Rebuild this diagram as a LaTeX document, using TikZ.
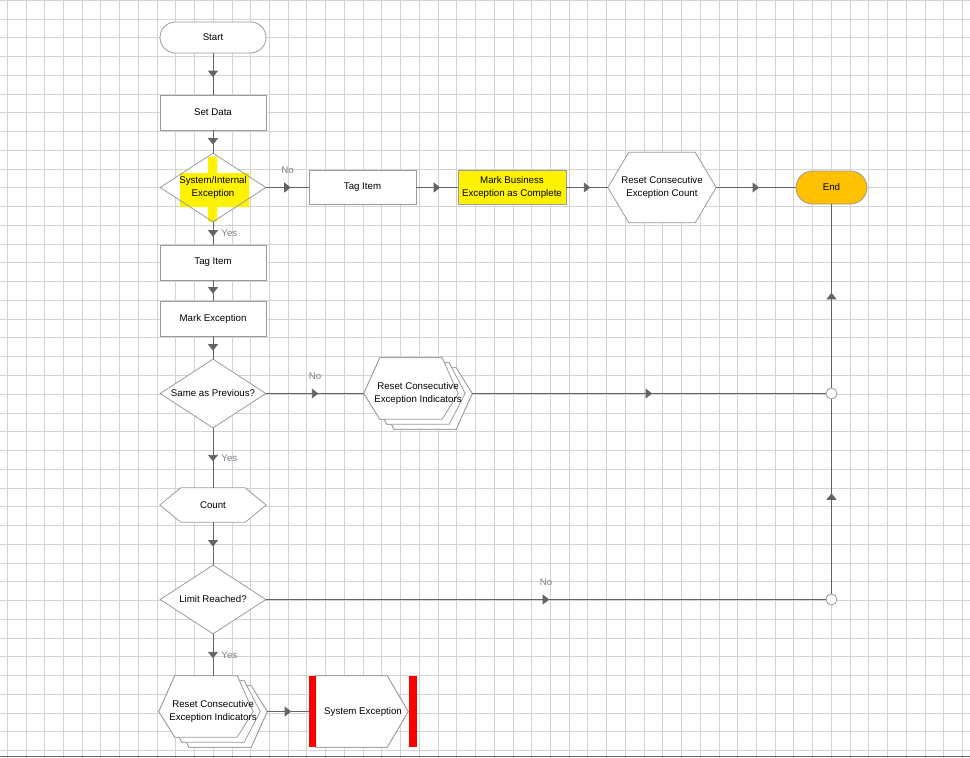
\documentclass[tikz,border=0pt]{standalone}
\usepackage{fontspec}
\setmainfont{Liberation Sans}
\usetikzlibrary{arrows.meta,calc,shapes.geometric,decorations.markings}
\definecolor{gridgray}{RGB}{211,211,211}
\definecolor{linegray}{RGB}{100,100,100}
\definecolor{shapegray}{RGB}{155,155,155}
\definecolor{labelgray}{RGB}{125,130,140}
\definecolor{endorange}{RGB}{255,192,0}
\pgfdeclarelayer{paper}\pgfdeclarelayer{outline}
\pgfsetlayers{paper,outline,main}
\newcommand{\hexa}[5]{\draw[#4] let \p1=#1, \p2=#2, \p3=#5 in (\x1,\y3) -- ({\x1+#3},\y1) -- ({\x2-#3},\y1) -- (\x2,\y3) -- ({\x2-#3},\y2) -- ({\x1+#3},\y2) -- cycle;}

\begin{document}
\begin{tikzpicture}[x=1pt,y=-1pt,font=\fontsize{9.7}{12.5}\selectfont,
 box/.style={draw=shapegray,line width=.8pt,fill=white,minimum width=106pt,minimum height=35pt,inner sep=0pt,align=center},
 term/.style={box,rounded corners=15.5pt,minimum height=31pt},
 decision/.style={box,diamond,minimum height=69pt,aspect=1.54},
 stackbox/.style={draw=none,fill=none,minimum width=108pt,minimum height=70pt,inner sep=0pt,align=center},
 hexline/.style={draw=shapegray,line width=.8pt,fill=white},
 flow/.style={draw=linegray,line width=.9pt,postaction={decorate},decoration={markings,mark=at position .5 with {\arrow[linegray,xshift=3.2pt]{Triangle[length=6.5pt,width=10pt]}}}},
 flowlabel/.style={text=labelgray,inner sep=0pt},
 junction/.style={circle,draw=shapegray,line width=.8pt,fill=white,minimum size=11pt,inner sep=0pt}]
 \useasboundingbox (0,0) rectangle (970,758);
 \begin{pgfonlayer}{paper}
  \fill[white] (0,0) rectangle (970,758);
  \foreach \k in {0,...,51} \draw[gridgray,line width=1pt] ({7.3+18.73*\k},0) -- ++(0,758);
  \foreach \k in {0,...,40} \draw[gridgray,line width=1pt] (0,{0.3+18.76*\k}) -- ++(970,0);
  \draw[linegray,line width=1pt] (0,756.5) -- (970,756.5);
 \end{pgfonlayer}

 \node[term] (start) at (213,37.5) {Start};
 \node[box] (setdata) at (213,112.5) {Set Data};
 \node[decision,fill=none] (sysint) at (213,187.5) {System/Internal\\Exception};
 \node[box,minimum width=107pt,minimum height=34pt] (tag1) at (362.5,187.5) {Tag Item};
 \node[box,fill=yellow,minimum width=108pt,minimum height=34pt] (markbus) at (512,187.5) {Mark Business\\Exception as Complete};
 \node[stackbox] (rcount) at (662,187.5) {Reset Consecutive\\Exception Count};
 \node[term,fill=endorange,minimum width=71pt,minimum height=33pt,rounded corners=16.5pt] (endn) at (831.5,187.5) {End};
 \node[box] (tag2) at (213,262.5) {Tag Item};
 \node[box] (markex) at (213,318.5) {Mark Exception};
 \node[decision] (same) at (213,393.5) {Same as Previous?};
 \node[stackbox,minimum height=71pt] (rci1) at (418,393.5) {Reset Consecutive\\Exception Indicators};
 \node[stackbox,minimum width=106pt,minimum height=34pt] (count) at (213,505) {Count};
 \node[decision] (limit) at (213,599.5) {Limit Reached?};
 \node[stackbox,minimum height=71pt] (rci2) at (213,711.5) {Reset Consecutive\\Exception Indicators};
 \node[stackbox,minimum height=71pt] (sysex) at (363,711.5) {System Exception};
 \node[junction] (j1) at (831.5,393.5) {};
 \node[junction] (j2) at (831.5,599.5) {};

 \begin{pgfonlayer}{outline}
  \foreach \s in {rcount,count} \hexa{(\s.north west)}{(\s.south east)}{21pt}{hexline}{(\s.center)}
  \foreach \s in {rci1,rci2}{
   \hexa{([shift={(14,10)}]\s.north west)}{(\s.south east)}{16pt}{hexline}{(\s.center)}
   \hexa{([shift={(7,5)}]\s.north west)}{([shift={(-7,-5)}]\s.south east)}{16pt}{hexline}{(\s.center)}
   \hexa{(\s.north west)}{([shift={(-14,-10)}]\s.south east)}{16pt}{hexline}{(\s.center)}}
  \draw[hexline] ([xshift=7]sysex.north west) -- ([xshift=-30]sysex.north east) -- ([xshift=-9]sysex.east) -- ([xshift=-30]sysex.south east) -- ([xshift=7]sysex.south west) -- cycle;
  \fill[red] (sysex.north west) rectangle ([xshift=7]sysex.south west);
  \fill[red] ([xshift=-8]sysex.north east) rectangle (sysex.south east);
  \fill[white] (sysint.north) -- (sysint.east) -- (sysint.south) -- (sysint.west) -- cycle;
  \fill[yellow] ([shift={(-33,-14.5)}]sysint.center) rectangle ([shift={(36,19.5)}]sysint.center)
   ([shift={(-5,-31)}]sysint.center) rectangle ([shift={(4,34)}]sysint.center);
 \end{pgfonlayer}

 \draw[flow] (start) -- (setdata);
 \draw[flow] (setdata) -- (sysint);
 \draw[flow] (sysint) -- node[flowlabel,above=13pt]{No} (tag1);
 \draw[flow] (tag1) -- (markbus);
 \draw[flow] (markbus) -- (rcount);
 \draw[flow] (rcount) -- (endn);
 \draw[flow] (sysint) -- node[flowlabel,right=8pt]{Yes} (tag2);
 \draw[flow] (tag2) -- (markex);
 \draw[flow] (markex) -- (same);
 \draw[flow] (same) -- node[flowlabel,above=13pt]{No} (rci1);
 \draw[flow] (rci1) -- (j1);
 \draw[flow] (same) -- node[flowlabel,right=8pt]{Yes} (count);
 \draw[flow] (count) -- (limit);
 \draw[flow] (limit) -- node[flowlabel,above=13pt]{No} (j2);
 \draw[flow] (limit) -- node[flowlabel,right=8pt]{Yes} (rci2);
 \draw[flow] (rci2) -- (sysex);
 \draw[flow] (j2) -- (j1);
 \draw[flow] (j1) -- (endn);
\end{tikzpicture}
\end{document}
